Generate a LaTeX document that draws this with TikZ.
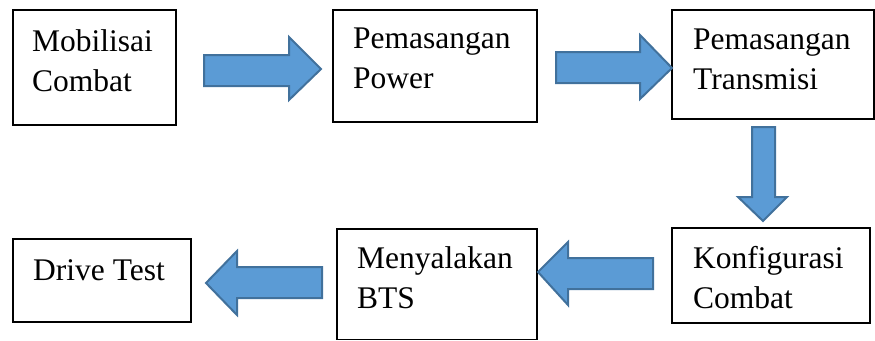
\documentclass[tikz,border=0pt]{standalone}
\usepackage{fontspec}
\setmainfont{Liberation Serif}
\definecolor{arrfill}{HTML}{5B9BD5}
\definecolor{arrdraw}{HTML}{41719C}
\begin{document}
\begin{tikzpicture}[x=1pt,y=-1pt,
  box/.style={draw=black,line width=1.1pt},
  lbl/.style={anchor=base west,inner sep=0pt,font=\fontsize{31.5}{40}\selectfont,align=left},
  blockarrow/.style={fill=arrfill,draw=arrdraw,line width=2pt,line join=miter}]
\useasboundingbox (0,0) rectangle (875,340);
% boxes
\draw[box] (13,10) rectangle (176,125) coordinate (b1);
\draw[box] (333,10) rectangle (537,122) coordinate (b2);
\draw[box] (672,10) rectangle (874,119) coordinate (b3);
\draw[box] (672,228) rectangle (870,323) coordinate (b4);
\draw[box] (337,229) rectangle (537,339.5) coordinate (b5);
\draw[box] (13,239) rectangle (191,322) coordinate (b6);
% texts (anchored at the baseline of the last line)
\node[lbl] (t1) at (32,91) {Mobilisai\\Combat};
\node[lbl] (t2) at (353,88) {Pemasangan\\Power};
\node[lbl] (t3) at (693,89) {Pemasangan\\Transmisi};
\node[lbl] (t4) at (693,308) {Konfigurasi\\Combat};
\node[lbl] (t5) at (357,308) {Menyalakan\\BTS};
\node[lbl] (t6) at (33,280) {Drive Test};
% block arrows
\draw[blockarrow] (204,55) -- (289,55) -- (289,37) -- (321,69) -- (289,100) -- (289,86) -- (204,86) -- cycle;
\draw[blockarrow] (556,52) -- (640,52) -- (640,35) -- (672,68) -- (640,99) -- (640,83) -- (556,83) -- cycle;
\draw[blockarrow] (752,127) -- (775,127) -- (775,197) -- (787,197) -- (763,221) -- (738,197) -- (752,197) -- cycle;
\draw[blockarrow] (653,258) -- (568,258) -- (568,242) -- (538,272) -- (568,305) -- (568,289) -- (653,289) -- cycle;
\draw[blockarrow] (322,267) -- (237,267) -- (237,251) -- (206,283) -- (237,315) -- (237,298) -- (322,298) -- cycle;
\end{tikzpicture}
\end{document}
